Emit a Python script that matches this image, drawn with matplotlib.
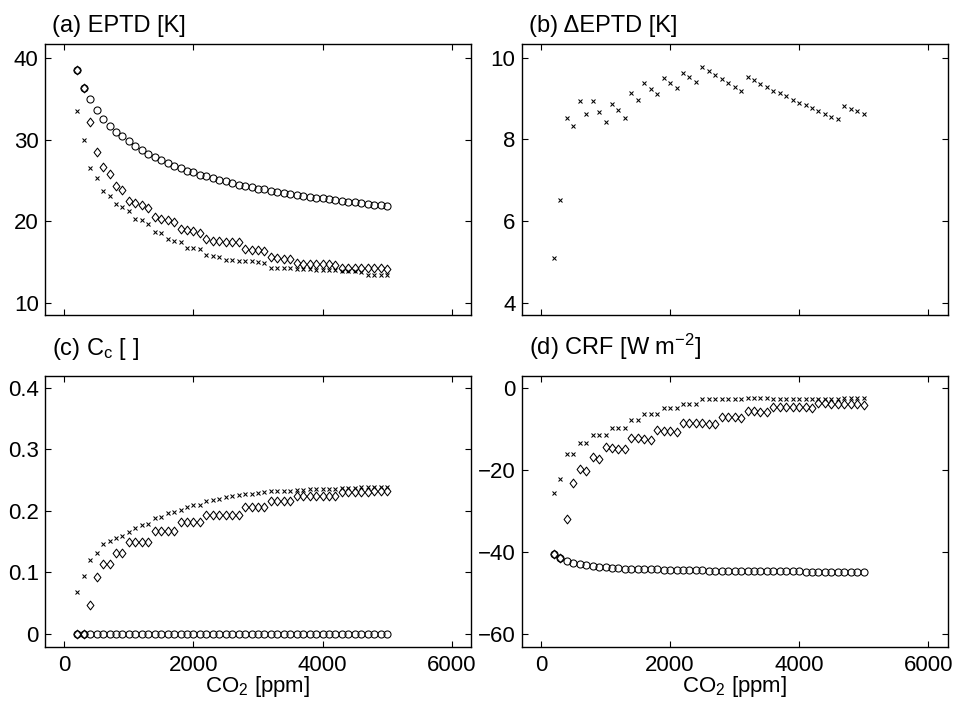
import numpy as np
import matplotlib
matplotlib.use("Agg")
import matplotlib.pyplot as plt
from matplotlib.path import Path

plt.rcParams['font.family'] = ['Liberation Sans', 'DejaVu Sans']
plt.rcParams['mathtext.fontset'] = 'custom'
plt.rcParams['mathtext.rm'] = 'Liberation Sans'
plt.rcParams['mathtext.it'] = 'Liberation Sans:italic'
plt.rcParams['mathtext.bf'] = 'Liberation Sans:bold'

# CO2 grid (ppm)
co2 = list(range(200, 5001, 100))

# (a) EPTD [K]
eptd_circ = [38.5, 36.4, 35.0, 33.7, 32.6, 31.7, 31.0, 30.4, 29.8, 29.2,
             28.7, 28.3, 27.9, 27.5, 27.1, 26.8, 26.5, 26.2, 26.0, 25.7,
             25.5, 25.3, 25.1, 24.9, 24.7, 24.5, 24.3, 24.2, 24.0, 23.9,
             23.7, 23.6, 23.5, 23.4, 23.2, 23.1, 23.0, 22.9, 22.8, 22.7,
             22.6, 22.5, 22.4, 22.3, 22.2, 22.1, 22.05, 22.0, 21.9]
eptd_diam = [38.6, 36.4, 32.2, 28.5, 26.6, 25.8, 24.3, 23.8, 22.5, 22.2,
             22.0, 21.6, 20.5, 20.3, 20.1, 19.9, 19.0, 18.9, 18.8, 18.6,
             17.8, 17.6, 17.6, 17.5, 17.5, 17.4, 16.6, 16.5, 16.5, 16.4,
             15.6, 15.5, 15.4, 15.4, 14.9, 14.8, 14.7, 14.7, 14.7, 14.7,
             14.6, 14.3, 14.3, 14.2, 14.2, 14.2, 14.2, 14.2, 14.1]
eptd_cross = [33.5, 30.0, 26.5, 25.3, 23.7, 23.1, 22.1, 21.8, 21.3, 20.3,
              20.1, 19.7, 18.7, 18.6, 17.8, 17.6, 17.5, 16.7, 16.7, 16.6,
              15.9, 15.7, 15.6, 15.2, 15.2, 15.1, 15.1, 15.1, 15.0, 14.9,
              14.2, 14.2, 14.2, 14.2, 14.1, 14.1, 14.1, 14.0, 14.0, 14.0,
              14.0, 13.9, 13.9, 13.9, 13.8, 13.4, 13.4, 13.4, 13.4]

# (b) delta EPTD [K]
deptd = [5.11, 6.52, 8.52, 8.34, 8.94, 8.62, 8.93, 8.66, 8.43, 8.87,
         8.71, 8.53, 9.13, 8.97, 9.37, 9.23, 9.10, 9.49, 9.37, 9.25,
         9.63, 9.52, 9.41, 9.78, 9.67, 9.58, 9.47, 9.37, 9.28, 9.18,
         9.53, 9.44, 9.36, 9.28, 9.19, 9.13, 9.05, 8.97, 8.90, 8.83,
         8.76, 8.70, 8.63, 8.56, 8.49, 8.81, 8.75, 8.69, 8.62]

# (c) Cc []
cc_circ = [0.0] * 49
cc_diam = [0.0, 0.0, 0.047, 0.093, 0.113, 0.113, 0.132, 0.132, 0.150, 0.150,
           0.150, 0.150, 0.167, 0.167, 0.167, 0.167, 0.182, 0.182, 0.182, 0.182,
           0.194, 0.194, 0.194, 0.194, 0.194, 0.194, 0.206, 0.206, 0.206, 0.206,
           0.216, 0.216, 0.216, 0.216, 0.224, 0.224, 0.224, 0.224, 0.224, 0.224,
           0.224, 0.231, 0.231, 0.231, 0.231, 0.231, 0.233, 0.233, 0.233]
cc_cross = [0.069, 0.094, 0.120, 0.132, 0.146, 0.151, 0.156, 0.160, 0.166, 0.172,
            0.177, 0.179, 0.188, 0.190, 0.196, 0.198, 0.201, 0.206, 0.209, 0.210,
            0.216, 0.218, 0.219, 0.223, 0.224, 0.225, 0.227, 0.228, 0.229, 0.230,
            0.232, 0.232, 0.233, 0.233, 0.234, 0.234, 0.235, 0.235, 0.235, 0.236,
            0.236, 0.237, 0.237, 0.237, 0.238, 0.238, 0.239, 0.239, 0.239]

# (d) CRF [W m-2]
crf_circ = [-40.5, -41.4, -42.1, -42.6, -42.9, -43.2, -43.4, -43.6, -43.7, -43.8,
            -43.9, -44.0, -44.0, -44.1, -44.1, -44.2, -44.2, -44.3, -44.3, -44.3,
            -44.4, -44.4, -44.4, -44.4, -44.5, -44.5, -44.5, -44.5, -44.6, -44.6,
            -44.6, -44.6, -44.6, -44.7, -44.7, -44.7, -44.7, -44.7, -44.7, -44.8,
            -44.8, -44.8, -44.8, -44.8, -44.8, -44.8, -44.8, -44.8, -44.8]
crf_diam = [-40.5, -41.5, -32.0, -23.1, -19.8, -20.2, -16.9, -17.4, -14.4, -14.6,
            -14.8, -15.0, -12.2, -12.3, -12.5, -12.7, -10.3, -10.5, -10.5, -10.7,
            -8.5, -8.5, -8.7, -8.7, -8.8, -8.9, -7.1, -7.1, -7.2, -7.3,
            -5.6, -5.7, -5.8, -5.8, -4.6, -4.6, -4.6, -4.7, -4.8, -4.8,
            -4.9, -3.8, -3.8, -3.9, -3.9, -4.0, -4.0, -4.0, -4.1]
crf_cross = [-25.7, -22.3, -16.1, -16.1, -13.5, -13.5, -11.5, -11.5, -11.5, -9.7,
             -9.7, -9.7, -7.9, -7.9, -6.3, -6.3, -6.3, -5.0, -5.0, -5.0,
             -3.9, -3.9, -3.9, -2.8, -2.8, -2.8, -2.8, -2.8, -2.8, -2.8,
             -2.5, -2.5, -2.5, -2.5, -2.7, -2.7, -2.7, -2.7, -2.7, -2.7,
             -2.8, -2.8, -2.8, -2.8, -2.8, -2.6, -2.6, -2.6, -2.6]

fig = plt.figure(figsize=(9.57, 7.09), dpi=100)
W, H = 957.0, 709.0

def make_axes(x0, x1, y0, y1):
    return fig.add_axes([x0 / W, 1 - y1 / H, (x1 - x0) / W, (y1 - y0) / H])

ax_a = make_axes(45, 471, 44, 314.5)
ax_b = make_axes(521.7, 947.5, 44, 314.5)
ax_c = make_axes(45, 471, 376, 647)
ax_d = make_axes(521.7, 947.5, 376, 647)

# matlab-like diamond: a bit wider than matplotlib's thin 'd'
diamond = Path([(0, 1), (0.78, 0), (0, -1), (-0.78, 0), (0, 1)],
               [Path.MOVETO, Path.LINETO, Path.LINETO, Path.LINETO, Path.CLOSEPOLY])

circ = dict(ls='none', marker='o', ms=5.1, mfc='none', mec='k', mew=0.75)
diam = dict(ls='none', marker=diamond, ms=6.3, mfc='none', mec='k', mew=0.75)
cross = dict(ls='none', marker='x', ms=3.4, mec='k', mew=0.75)

ax_a.plot(co2, eptd_circ, **circ)
ax_a.plot(co2, eptd_diam, **diam)
ax_a.plot(co2, eptd_cross, **cross)

ax_b.plot(co2, deptd, **cross)

ax_c.plot(co2, cc_circ, **circ)
ax_c.plot(co2, cc_diam, **diam)
ax_c.plot(co2, cc_cross, **cross)

ax_d.plot(co2, crf_circ, **circ)
ax_d.plot(co2, crf_diam, **diam)
ax_d.plot(co2, crf_cross, **cross)

ax_a.set_ylim(8.55, 41.75)
ax_a.set_yticks([10, 20, 30, 40])
ax_b.set_ylim(3.73, 10.33)
ax_b.set_yticks([4, 6, 8, 10])
ax_c.set_ylim(-0.021, 0.419)
ax_c.set_yticks([0, 0.1, 0.2, 0.3, 0.4])
ax_c.set_yticklabels(['0', '0.1', '0.2', '0.3', '0.4'])
ax_d.set_ylim(-63.1, 2.85)
ax_d.set_yticks([-60, -40, -20, 0])
ax_d.set_yticklabels(['\u221260', '\u221240', '\u221220', '0'])

for ax in (ax_a, ax_b, ax_c, ax_d):
    ax.set_xlim(-300, 6300)
    ax.set_xticks([0, 2000, 4000, 6000])
    ax.tick_params(direction='in', top=True, right=True, length=4, width=0.8,
                   labelsize=16, pad=4.5)
    for s in ax.spines.values():
        s.set_linewidth(1.0)

for ax in (ax_a, ax_b):
    ax.set_xticklabels([])

for ax in (ax_c, ax_d):
    ax.tick_params(axis='x', pad=6)
    ax.set_xlabel('CO$_2$ [ppm]', fontsize=16, labelpad=-2)

titles = [(ax_a, '(a) EPTD [K]', 8.6),
          (ax_b, '(b) \u0394EPTD [K]', 8.6),
          (ax_c, '(c) C$_\\mathregular{c}$ [ ]', 15),
          (ax_d, '(d) CRF [W m$^{\\mathregular{-2}}$]', 15)]
for ax, txt, dy in titles:
    ax.annotate(txt, xy=(0, 1), xycoords='axes fraction', xytext=(5, dy),
                textcoords='offset points', ha='left', va='baseline', fontsize=17)

fig.savefig('out.png', dpi=100)
